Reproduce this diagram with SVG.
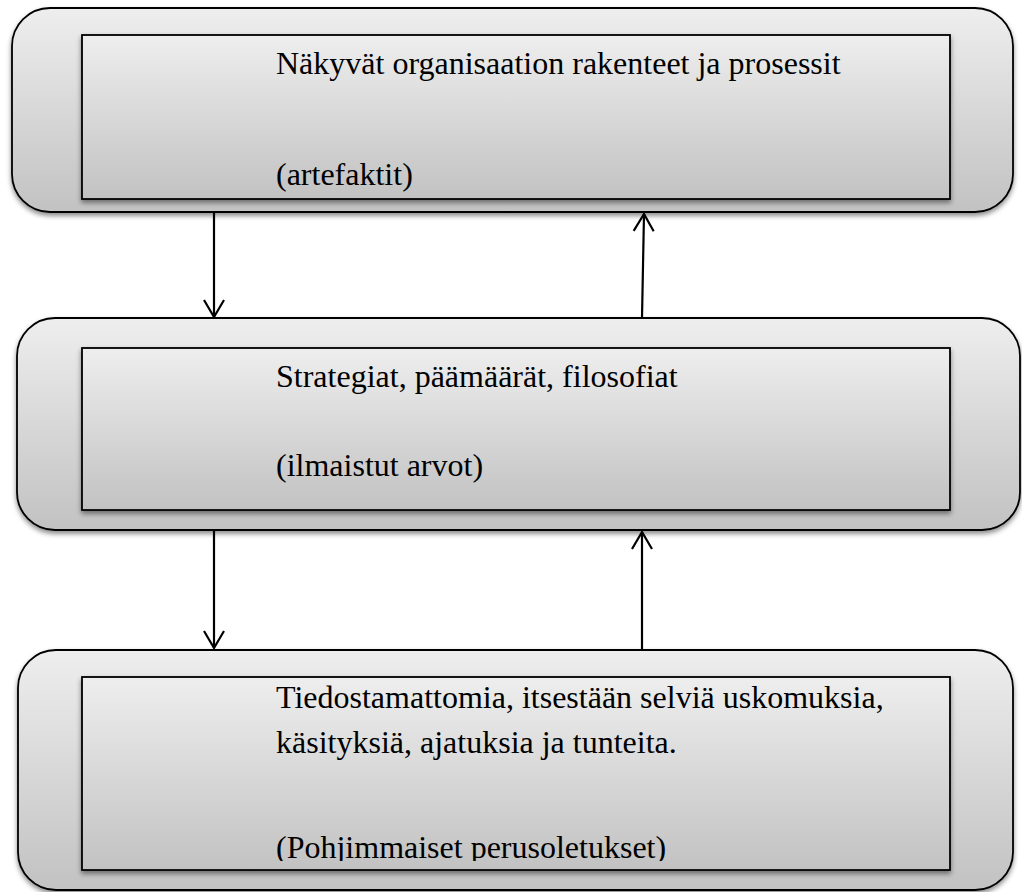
<svg xmlns="http://www.w3.org/2000/svg" width="1022" height="892" viewBox="0 0 1022 892">
<defs>
<linearGradient id="g" x1="0" y1="0" x2="0" y2="1">
<stop offset="0" stop-color="#eeeeee"/>
<stop offset="1" stop-color="#c2c2c2"/>
</linearGradient>
<filter id="sh" x="-5%" y="-5%" width="110%" height="115%">
<feDropShadow dx="0" dy="3" stdDeviation="2.5" flood-color="#000" flood-opacity="0.45"/>
</filter>
<marker id="ah" markerUnits="userSpaceOnUse" markerWidth="22" markerHeight="24" viewBox="0 0 22 24" refX="20" refY="12" orient="auto">
<path d="M3,2 L20,12 L3,22" fill="none" stroke="#000" stroke-width="2.2"/>
</marker>
<clipPath id="c3"><rect x="82" y="677" width="868" height="184"/></clipPath>
</defs>
<style>
.outer{fill:url(#g);stroke:#000;stroke-width:1.8;filter:url(#sh)}
.inner{fill:url(#g);stroke:#000;stroke-width:1.8;filter:url(#sh)}
.t{font-family:"Liberation Serif","Times New Roman",serif;font-size:32px;fill:#000}
.conn{stroke:#000;stroke-width:2.2;fill:none;marker-end:url(#ah)}
</style>
<rect width="1022" height="892" fill="#fff"/>
<g id="node-artefacts">
<rect class="outer" x="12" y="8" width="1001" height="204" rx="38" ry="38"/>
<rect class="inner" x="82" y="35" width="868" height="164"/>
<text class="t" x="276" y="74">Näkyvät organisaation rakenteet ja prosessit</text>
<text class="t" x="276" y="185">(artefaktit)</text>
</g>
<g id="node-values">
<rect class="outer" x="17" y="318" width="1003" height="212" rx="38" ry="38"/>
<rect class="inner" x="82" y="348" width="868" height="162"/>
<text class="t" x="276" y="387">Strategiat, päämäärät, filosofiat</text>
<text class="t" x="276" y="476">(ilmaistut arvot)</text>
</g>
<g id="node-assumptions">
<rect class="outer" x="18" y="650" width="995" height="240" rx="38" ry="38"/>
<rect class="inner" x="82" y="677" width="868" height="193"/>
<text class="t" x="276" y="708">Tiedostamattomia, itsestään selviä uskomuksia,</text>
<text class="t" x="276" y="753">käsityksiä, ajatuksia ja tunteita.</text>
<text class="t" x="276" y="858" clip-path="url(#c3)">(Pohjimmaiset perusoletukset)</text>
</g>
<g id="connectors">
<line class="conn" x1="214" y1="213" x2="214" y2="317"/>
<line class="conn" x1="642" y1="318" x2="644" y2="214"/>
<line class="conn" x1="214" y1="531" x2="214" y2="648"/>
<line class="conn" x1="642" y1="650" x2="642" y2="532"/>
</g>
</svg>
